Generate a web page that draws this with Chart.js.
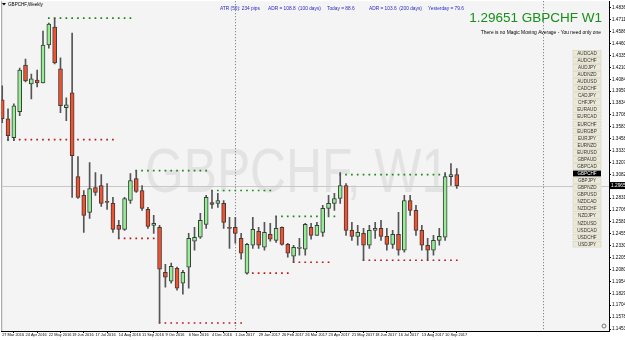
<!DOCTYPE html>
<html><head><meta charset="utf-8">
<script src="https://cdn.jsdelivr.net/npm/chart.js@4.4.1/dist/chart.umd.min.js"></script>
<style>html,body{margin:0;padding:0;background:#fff;overflow:hidden}canvas{display:block}</style>
</head><body>
<canvas id="c" width="625" height="340"></canvas>
<script>
// Weekly GBPCHF candles, first bar = week of 27 Mar 2016
const openP  = [1.3869,1.3669,1.3470,1.3743,1.4236,1.4036,1.4078,1.4047,1.4446,1.4635,1.4194,1.3785,1.3942,1.3060,1.2861,1.2682,1.2945,1.2966,1.2798,1.2777,1.2546,1.2504,1.2808,1.3039,1.2913,1.2714,1.2546,1.2525,1.2052,1.1958,1.2094,1.1937,1.2105,1.2378,1.2420,1.2556,1.2787,1.2777,1.2777,1.2525,1.2525,1.2409,1.2042,1.2336,1.2483,1.2315,1.2451,1.2388,1.2525,1.2346,1.2220,1.2304,1.2294,1.2525,1.2441,1.2472,1.2724,1.2777,1.2829,1.2966,1.2493,1.2430,1.2462,1.2336,1.2493,1.2514,1.2430,1.2346,1.2451,1.2283,1.2808,1.2703,1.2493,1.2336,1.2283,1.2388,1.2420,1.3060,1.3081];
const highP  = [1.4016,1.3774,1.3827,1.4204,1.4299,1.4141,1.4183,1.4593,1.4677,1.4730,1.4310,1.3890,1.4572,1.3270,1.2913,1.3207,1.3102,1.3081,1.2987,1.2840,1.2598,1.2840,1.3092,1.3123,1.2966,1.2735,1.2651,1.2546,1.2136,1.2147,1.2105,1.2073,1.2462,1.2525,1.2672,1.2861,1.2913,1.2882,1.2808,1.2630,1.2630,1.2462,1.2357,1.2630,1.2525,1.2577,1.2567,1.2640,1.2530,1.2357,1.2336,1.2409,1.2567,1.2567,1.2577,1.2756,1.2861,1.2882,1.3102,1.2987,1.2577,1.2546,1.2514,1.2546,1.2577,1.2598,1.2514,1.2493,1.2682,1.2861,1.2861,1.2756,1.2546,1.2409,1.2441,1.2514,1.3102,1.3197,1.3144];
const lowP   = [1.3627,1.3438,1.3438,1.3701,1.4057,1.3879,1.4005,1.4047,1.4414,1.4247,1.3732,1.3648,1.2840,1.2829,1.2472,1.2619,1.2861,1.2745,1.2714,1.2472,1.2409,1.2493,1.2777,1.2892,1.2703,1.2514,1.2462,1.1517,1.1895,1.1937,1.1863,1.1821,1.1884,1.2283,1.2409,1.2514,1.2724,1.2735,1.2514,1.2304,1.2357,1.2189,1.2031,1.2304,1.2304,1.2283,1.2378,1.2367,1.2336,1.2210,1.2157,1.2231,1.2231,1.2399,1.2441,1.2430,1.2651,1.2703,1.2777,1.2441,1.2388,1.2336,1.2178,1.2304,1.2409,1.2388,1.2283,1.2304,1.2231,1.2262,1.2651,1.2441,1.2283,1.2178,1.2231,1.2336,1.2388,1.2966,1.2934];
const closeP = [1.3669,1.3491,1.3806,1.4183,1.4068,1.4089,1.4047,1.4446,1.4667,1.4257,1.3806,1.3816,1.3281,1.2840,1.2651,1.2934,1.2892,1.2777,1.2787,1.2504,1.2504,1.2829,1.3018,1.2903,1.2724,1.2535,1.2567,1.2084,1.2000,1.2115,1.1884,1.2052,1.2409,1.2420,1.2598,1.2840,1.2766,1.2808,1.2577,1.2514,1.2462,1.2252,1.2346,1.2504,1.2336,1.2472,1.2399,1.2514,1.2346,1.2252,1.2315,1.2315,1.2556,1.2441,1.2546,1.2724,1.2777,1.2829,1.2966,1.2493,1.2430,1.2472,1.2336,1.2493,1.2514,1.2430,1.2346,1.2451,1.2283,1.2808,1.2703,1.2493,1.2336,1.2283,1.2388,1.2430,1.3060,1.3081,1.2965];

// Date labels every 4 weeks
const dateLabels = ['27 Mar 2016','24 Apr 2016','22 May 2016','19 Jun 2016','17 Jul 2016','14 Aug 2016','11 Sep 2016','9 Oct 2016','6 Nov 2016','4 Dec 2016','1 Jan 2017','29 Jan 2017','26 Feb 2017','26 Mar 2017','23 Apr 2017','21 May 2017','18 Jun 2017','16 Jul 2017','13 Aug 2017','10 Sep 2017'];
const dateLabelWeeks = [0,4,8,12,16,20,24,28,32,36,40,44,48,52,56,60,64,68,72,76];

// Price scale labels
const priceTicks = [1.14535,1.15788,1.17041,1.18294,1.19547,1.20800,1.22053,1.23306,1.24559,1.25812,1.27065,1.28318,1.30824,1.32077,1.33330,1.34583,1.35836,1.37089,1.38342,1.39595,1.40848,1.42101,1.43354,1.44607,1.45860,1.47113,1.48366];
const priceMin = 1.14325, priceMax = 1.4908;
const currentPrice = 1.29651;

// Support / resistance dotted levels
const levelPrice = [1.4730,1.3449,1.2409,1.3123,1.1517,1.2913,1.2042,1.2640,1.2157,1.3081,1.2178];
const levelFrom  = [8,1,20,23,27,36,42,47,50,58,62];
const levelTo    = [22,19,26,35,41,46,49,57,56,77,78];
const levelKind  = ['high','low','low','high','low','high','low','high','low','high','low'];

// Period separators (week index)
const separators = [40, 92.8];

const symbols = ['AUDCAD','AUDCHF','AUDJPY','AUDNZD','AUDUSD','CADCHF','CADJPY','CHFJPY','EURAUD','EURCAD','EURCHF','EURGBP','EURJPY','EURNZD','EURUSD','GBPAUD','GBPCAD','GBPCHF','GBPJPY','GBPNZD','GBPUSD','NZDCAD','NZDCHF','NZDJPY','NZDUSD','USDCAD','USDCHF','USDJPY'];
const infoTexts = ['ATR (50): 234 pips','ADR = 108.8  (100 days)','Today = 88.6','ADR = 103.6  (200 days)','Yesterday = 79.6'];

const idx = openP.map((_, i) => i);
const bodyData = idx.map(i => ({x: i, y: [openP[i], closeP[i]]}));
const wickData = idx.map(i => ({x: i, y: [lowP[i], highP[i]]}));

const levelSets = levelPrice.map((p, k) => {
  const pts = [];
  for (let i = levelFrom[k]; i <= levelTo[k]; i++) pts.push({x: i, y: p});
  const col = levelKind[k] === 'high' ? '#1c861c' : '#bb1a1a';
  return {type: 'scatter', data: pts, pointStyle: 'rect', pointRadius: 1.2, pointHoverRadius: 1.2,
          pointBorderWidth: 0, backgroundColor: col, borderColor: col, order: 2, showLine: false};
});

const deco = {
  id: 'deco',
  beforeDraw(chart) {
    const c = chart.ctx, a = chart.chartArea;
    c.save();
    c.fillStyle = '#ffffff'; c.fillRect(0, 0, chart.width, chart.height);
    c.fillStyle = '#f4f4f4'; c.fillRect(a.left, a.top, a.right - a.left, a.bottom - a.top);
    // watermark
    c.fillStyle = '#e3e3e3';
    c.font = '63px "Liberation Sans", Arial, sans-serif';
    c.textBaseline = 'alphabetic';
    c.translate(145, 192); c.scale(0.79, 1);
    c.fillText('GBPCHF, W1', 0, 0);
    c.restore();
    // left border
    c.save(); c.strokeStyle = '#9a9a9a'; c.lineWidth = 1;
    c.beginPath(); c.moveTo(a.left + 0.5, a.top); c.lineTo(a.left + 0.5, a.bottom); c.stroke();
    c.restore();
  },
  beforeDatasetsDraw(chart) {
    const c = chart.ctx, a = chart.chartArea, xs = chart.scales.x, ys = chart.scales.y;
    c.save();
    // current price line
    const py = Math.round(ys.getPixelForValue(currentPrice)) + 0.5;
    c.strokeStyle = '#c8c8c8'; c.lineWidth = 1;
    c.beginPath(); c.moveTo(a.left, py); c.lineTo(a.right, py); c.stroke();
    // separators
    c.strokeStyle = '#707070'; c.setLineDash([1, 2]);
    separators.forEach(s => {
      const px = Math.round(xs.getPixelForValue(s)) + 0.5;
      c.beginPath(); c.moveTo(px, a.top); c.lineTo(px, a.bottom); c.stroke();
    });
    c.restore();
  },
  afterDraw(chart) {
    const c = chart.ctx, a = chart.chartArea, ys = chart.scales.y;
    c.save();
    // title
    c.fillStyle = '#000';
    c.beginPath(); c.moveTo(2, 3); c.lineTo(6, 3); c.lineTo(4, 5.5); c.closePath(); c.fill();
    c.font = '4.6px "Liberation Sans", Arial, sans-serif';
    c.textBaseline = 'middle'; c.textAlign = 'left';
    c.fillText('GBPCHF,Weekly', 8, 4.5);
    // info line
    c.fillStyle = '#2828c8';
    c.font = '4.8px "Liberation Sans", Arial, sans-serif';
    const infoX = [220, 268, 327, 369, 428];
    infoTexts.forEach((t, k) => c.fillText(t, infoX[k], 8.5));
    // big price
    c.fillStyle = '#16901a';
    c.font = '13.5px "Liberation Sans", Arial, sans-serif';
    c.textAlign = 'right'; c.textBaseline = 'alphabetic';
    c.fillText(currentPrice.toFixed(5) + ' GBPCHF W1', 602, 22);
    c.fillStyle = '#000';
    c.font = '4.9px "Liberation Sans", Arial, sans-serif';
    c.fillText('There is no Magic Moving Average - You need only one', 601, 33.5);
    // buttons
    c.textAlign = 'center'; c.textBaseline = 'middle';
    c.font = '4.6px "Liberation Sans", Arial, sans-serif';
    symbols.forEach((s, k) => {
      const cy = 53.3 + k * 7.07;
      const sel = s === 'GBPCHF';
      c.fillStyle = sel ? '#000' : '#ece9d6';
      c.fillRect(573, cy - 2.9, 28, 5.8);
      if (!sel) { c.strokeStyle = '#d6d2c0'; c.lineWidth = 0.6; c.strokeRect(573, cy - 2.9, 28, 5.8); }
      c.fillStyle = sel ? '#fff' : '#333';
      c.fillText(s, 587, cy + 0.3);
    });
    // price highlight
    const py = ys.getPixelForValue(currentPrice);
    c.fillStyle = '#000';
    c.fillRect(610, py - 3.5, 15, 7);
    c.fillStyle = '#fff'; c.textAlign = 'left';
    c.font = '4.8px "Liberation Sans", Arial, sans-serif';
    c.fillText(currentPrice.toFixed(5), 611, py + 0.3);
    // small circle icon
    c.strokeStyle = '#777'; c.lineWidth = 1;
    c.beginPath(); c.arc(604, 326, 2, 0, Math.PI * 2); c.stroke();
    c.restore();
  }
};

new Chart(document.getElementById('c'), {
  type: 'bar',
  data: {
    datasets: [
      {label: 'body', data: bodyData, grouped: false, barThickness: 4, minBarLength: 1, order: 0,
       backgroundColor: ctx => closeP[ctx.dataIndex] >= openP[ctx.dataIndex] ? '#92f092' : '#f4512c',
       borderColor: '#3c3c3c', borderWidth: 1, borderSkipped: false},
      {label: 'wick', data: wickData, grouped: false, barThickness: 1, order: 1,
       backgroundColor: '#555', borderWidth: 0},
      ...levelSets
    ]
  },
  options: {
    responsive: false, animation: false, devicePixelRatio: 1,
    layout: {padding: {left: 1, top: 0, right: 0, bottom: 0}},
    plugins: {legend: {display: false}, tooltip: {enabled: false}},
    events: [],
    scales: {
      x: {
        type: 'linear', min: -0.1715, max: 104.12, offset: false,
        grid: {display: true, drawOnChartArea: false, drawTicks: true, tickLength: 2, color: '#000'},
        border: {display: true, color: '#000', width: 1},
        ticks: {autoSkip: false, maxRotation: 0, minRotation: 0, align: 'start', padding: 0,
                color: '#000', font: {size: 3.9, family: '"Liberation Sans Narrow", "Liberation Sans", Arial, sans-serif'},
                callback: (v, i) => dateLabels[i]},
        afterBuildTicks: s => { s.ticks = dateLabelWeeks.map(w => ({value: w})); },
        afterFit: s => { s.height = 9; s.paddingLeft = 0; s.paddingRight = 0; }
      },
      y: {
        type: 'linear', position: 'right', min: priceMin, max: priceMax,
        grid: {display: true, drawOnChartArea: false, drawTicks: true, tickLength: 2, color: '#000'},
        border: {display: true, color: '#000', width: 1},
        ticks: {padding: 1, color: '#000', font: {size: 4.6, family: '"Liberation Sans", Arial, sans-serif'},
                callback: v => v.toFixed(5)},
        afterBuildTicks: s => { s.ticks = priceTicks.map(v => ({value: v})); },
        afterFit: s => { s.width = 16; s.paddingTop = 0; s.paddingBottom = 0; }
      }
    }
  },
  plugins: [deco]
});
</script>
</body></html>
